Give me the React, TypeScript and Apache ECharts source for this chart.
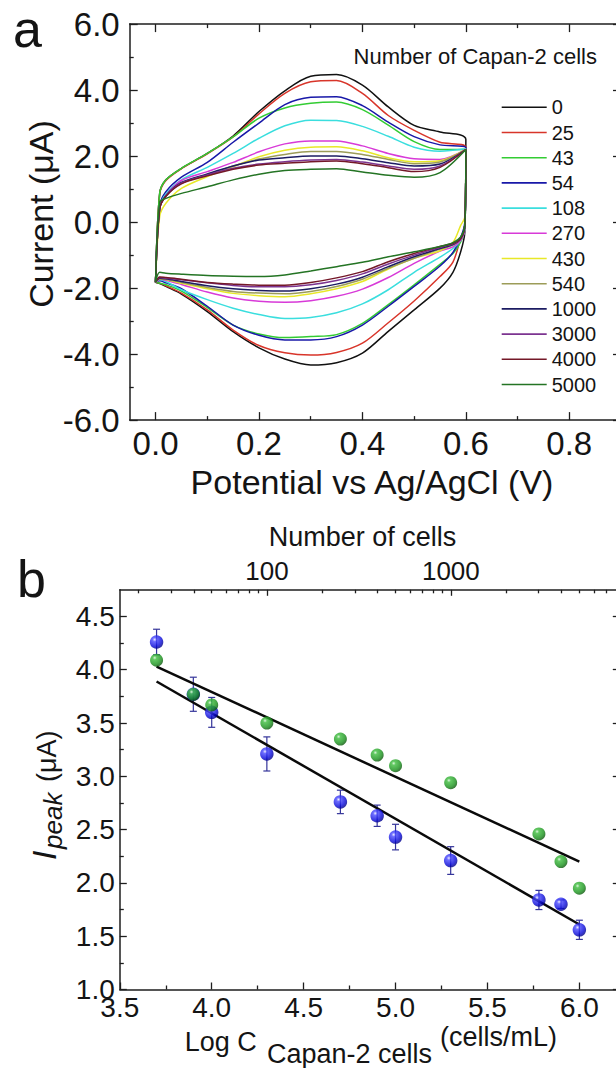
import React, { useEffect, useRef } from "react";
import * as echarts from "echarts";

const FONT = "'Liberation Sans', Arial, Helvetica, sans-serif";
const AXIS_COLOR = "#1e1e1e";
const TEXT_COLOR = "#141414";
const ERR_COLOR = "#34349a";

// ---------- Panel a : cyclic voltammograms ----------
const cellCounts = ["0", "25", "43", "54", "108", "270", "430", "540", "1000", "3000", "4000", "5000"];
const curveColors = ["#111111", "#d8352a", "#33cc33", "#1818a8", "#3adede", "#d83ad8", "#e8e828", "#9c9c58", "#1c1c62", "#7c3490", "#741828", "#247424"];

const potentialFwd = [0, 0.008, 0.02, 0.05, 0.1, 0.15, 0.2, 0.25, 0.3, 0.35, 0.4, 0.45, 0.5, 0.55, 0.6];
const potentialRev = [0.598, 0.59, 0.575, 0.55, 0.5, 0.45, 0.4, 0.35, 0.3, 0.25, 0.2, 0.15, 0.1, 0.05, 0.02, 0.008];

const fwd0 = [-1.82, 0.87, 1.28, 1.63, 2.08, 2.61, 3.35, 3.98, 4.42, 4.47, 4.15, 3.49, 2.93, 2.73, 2.5];
const fwd25 = [-1.82, 0.85, 1.26, 1.62, 2.07, 2.58, 3.28, 3.9, 4.25, 4.29, 3.9, 3.23, 2.78, 2.42, 2.26];
const fwd43 = [-1.82, 0.87, 1.28, 1.63, 2.08, 2.58, 3.15, 3.46, 3.6, 3.64, 3.41, 2.94, 2.44, 2.2, 2.2];
const fwd54 = [-1.82, 0.5, 0.92, 1.36, 1.81, 2.42, 3.0, 3.56, 3.78, 3.8, 3.53, 3.03, 2.59, 2.34, 2.25];
const fwd108 = [-1.82, 0.45, 0.85, 1.28, 1.66, 2.08, 2.54, 2.92, 3.09, 3.08, 2.9, 2.6, 2.27, 2.15, 2.22];
const fwd270 = [-1.82, 0.42, 0.8, 1.26, 1.53, 1.81, 2.13, 2.37, 2.46, 2.46, 2.31, 2.08, 1.92, 1.9, 2.2];
const fwd430 = [-1.82, 0.17, 0.57, 1.02, 1.38, 1.68, 1.98, 2.18, 2.27, 2.28, 2.16, 1.95, 1.83, 1.86, 2.2];
const fwd540 = [-1.82, 0.4, 0.78, 1.18, 1.43, 1.7, 1.91, 2.05, 2.14, 2.14, 2.05, 1.9, 1.77, 1.82, 2.2];
const fwd1000 = [-1.82, 0.4, 0.8, 1.2, 1.46, 1.7, 1.88, 1.95, 2.0, 2.0, 1.92, 1.8, 1.7, 1.76, 2.2];
const fwd3000 = [-1.82, 0.42, 0.8, 1.18, 1.43, 1.63, 1.76, 1.83, 1.88, 1.9, 1.82, 1.7, 1.6, 1.7, 2.2];
const fwd4000 = [-1.82, 0.4, 0.78, 1.16, 1.4, 1.6, 1.73, 1.78, 1.83, 1.85, 1.77, 1.65, 1.53, 1.66, 2.2];
const fwd5000 = [-1.82, 0.6, 0.72, 0.87, 1.07, 1.28, 1.45, 1.56, 1.6, 1.62, 1.52, 1.42, 1.36, 1.5, 2.2];

const rev0 = [-0.3, -0.9, -1.52, -2.0, -2.66, -3.31, -3.97, -4.26, -4.33, -4.15, -3.81, -3.32, -2.71, -2.18, -1.95, -1.86];
const rev25 = [-0.2, -0.5, -1.21, -1.65, -2.39, -3.05, -3.67, -3.95, -4.03, -3.96, -3.74, -3.27, -2.66, -2.15, -1.93, -1.85];
const rev43 = [-0.2, -0.6, -0.95, -1.28, -1.9, -2.5, -3.07, -3.41, -3.47, -3.5, -3.39, -3.12, -2.59, -2.09, -1.9, -1.85];
const rev54 = [0.0, -0.47, -0.92, -1.33, -1.95, -2.55, -3.12, -3.47, -3.57, -3.57, -3.43, -3.12, -2.55, -2.02, -1.84, -1.78];
const rev108 = [-0.2, -0.55, -0.8, -1.06, -1.52, -2.05, -2.48, -2.75, -2.89, -2.92, -2.8, -2.61, -2.35, -2.05, -1.8, -1.75];
const rev270 = [-0.2, -0.55, -0.75, -0.88, -1.25, -1.68, -2.03, -2.25, -2.38, -2.43, -2.4, -2.3, -2.12, -1.89, -1.76, -1.73];
const rev430 = [0.15, -0.1, -0.62, -0.87, -1.1, -1.42, -1.8, -2.02, -2.17, -2.26, -2.23, -2.16, -2.02, -1.85, -1.74, -1.72];
const rev540 = [-0.1, -0.5, -0.7, -0.82, -1.1, -1.4, -1.73, -1.95, -2.1, -2.17, -2.15, -2.1, -1.98, -1.83, -1.73, -1.72];
const rev1000 = [-0.1, -0.5, -0.68, -0.8, -1.05, -1.35, -1.67, -1.88, -2.02, -2.09, -2.07, -2.02, -1.93, -1.8, -1.72, -1.7];
const rev3000 = [-0.1, -0.5, -0.66, -0.77, -1.0, -1.27, -1.57, -1.77, -1.9, -1.96, -1.96, -1.92, -1.84, -1.75, -1.7, -1.68];
const rev4000 = [-0.1, -0.5, -0.64, -0.74, -0.95, -1.2, -1.5, -1.69, -1.83, -1.91, -1.91, -1.88, -1.83, -1.73, -1.68, -1.66];
const rev5000 = [-0.1, -0.45, -0.62, -0.74, -0.9, -1.05, -1.22, -1.35, -1.48, -1.6, -1.65, -1.64, -1.62, -1.58, -1.55, -1.52];

const forwardCurrents = [fwd0, fwd25, fwd43, fwd54, fwd108, fwd270, fwd430, fwd540, fwd1000, fwd3000, fwd4000, fwd5000];
const reverseCurrents = [rev0, rev25, rev43, rev54, rev108, rev270, rev430, rev540, rev1000, rev3000, rev4000, rev5000];

const aXMajor = [0, 0.2, 0.4, 0.6, 0.8];
const aXMinor = [0.1, 0.3, 0.5, 0.7];
const aYMajor = [-6, -4, -2, 0, 2, 4, 6];
const aYMinor = [-5, -3, -1, 1, 3, 5];

// ---------- Panel b : peak current vs log concentration ----------
const logC = [3.7, 3.9, 4.0, 4.3, 4.7, 4.9, 5.0, 5.3, 5.78, 5.9, 6.0];
const blueIpeak = [4.26, 3.77, 3.6, 3.21, 2.76, 2.63, 2.43, 2.21, 1.84, 1.8, 1.56];
const blueError = [0.12, 0.16, 0.14, 0.16, 0.11, 0.1, 0.12, 0.13, 0.09, 0.04, 0.09];
const greenIpeak = [4.09, 3.77, 3.67, 3.5, 3.35, 3.2, 3.1, 2.94, 2.46, 2.2, 1.95];
const blueFit = [[3.7, 3.89], [6.0, 1.61]];
const greenFit = [[3.7, 4.03], [6.0, 2.2]];

const bXMajor = [3.5, 4.0, 4.5, 5.0, 5.5, 6.0];
const bXMinor = [3.75, 4.25, 4.75, 5.25, 5.75];
const bYMajor = [1.0, 1.5, 2.0, 2.5, 3.0, 3.5, 4.0, 4.5];
const bYMinor = [1.25, 1.75, 2.25, 2.75, 3.25, 3.75, 4.25];
const topMajorCells = [100, 1000];
const topMinorCells = [20, 30, 40, 50, 60, 70, 80, 90, 200, 300, 400, 500, 600, 700, 800, 900, 2000, 3000, 4000, 5000, 6000, 7000, 8000];
const CELL_OFFSET = Math.log10(200);

const A_MIN_X = -0.05, A_MAX_X = 0.9, A_MIN_Y = -6, A_MAX_Y = 6;
const B_MIN_X = 3.5, B_MAX_X = 6.22, B_MIN_Y = 1.0, B_MAX_Y = 4.75;

const tickLine = { color: AXIS_COLOR, width: 1.3 };

function mkAxis(gridIndex: number, position: string, min: number, max: number, ticks: number[], tickLen: number, opts: any = {}) {
  return {
    gridIndex,
    position,
    type: "value",
    min,
    max,
    axisLine: { show: !!opts.line, onZero: false, lineStyle: { color: AXIS_COLOR, width: 1.5 } },
    axisTick: { show: true, inside: true, length: tickLen, customValues: ticks, lineStyle: tickLine },
    axisLabel: opts.labels
      ? {
          show: true,
          customValues: opts.labels,
          formatter: opts.formatter,
          fontSize: opts.fontSize,
          margin: opts.margin,
          color: TEXT_COLOR,
          fontFamily: FONT,
        }
      : { show: false },
    splitLine: { show: false },
    minorTick: { show: false },
  };
}

const fix1 = (v: number) => Number(v).toFixed(1);

function loopData(k: number) {
  const f = forwardCurrents[k];
  const r = reverseCurrents[k];
  const pts: number[][] = potentialFwd.map((e, i) => [e, f[i]]);
  potentialRev.forEach((e, i) => pts.push([e, r[i]]));
  pts.push([potentialFwd[0], f[0]]);
  return pts;
}

function txt(text: string, x: number, y: number, fontSize: number, align = "left", extra: any = {}) {
  return {
    type: "text",
    x,
    y,
    silent: true,
    style: {
      text,
      fontSize,
      fontFamily: FONT,
      fill: TEXT_COLOR,
      align,
      verticalAlign: "middle",
      ...extra,
    },
  };
}

function buildOption() {
  const blueBall = new echarts.graphic.RadialGradient(0.36, 0.32, 0.68, [
    { offset: 0, color: "#e4e4ff" },
    { offset: 0.22, color: "#4a4aff" },
    { offset: 0.75, color: "#0808d8" },
    { offset: 1, color: "#000090" },
  ]);
  const greenBall = new echarts.graphic.RadialGradient(0.36, 0.32, 0.68, [
    { offset: 0, color: "#d4f4d4" },
    { offset: 0.22, color: "#3cbc3c" },
    { offset: 0.75, color: "#17901a" },
    { offset: 1, color: "#0b5c0b" },
  ]);

  const cvSeries = cellCounts.map((name, k) => ({
    type: "line",
    name,
    xAxisIndex: 0,
    yAxisIndex: 0,
    data: loopData(k),
    smooth: 0.3,
    symbol: "none",
    lineStyle: { color: curveColors[k], width: 1.5 },
    itemStyle: { color: curveColors[k] },
    z: 3,
  }));

  return {
    animation: false,
    backgroundColor: "#ffffff",
    textStyle: { fontFamily: FONT },
    grid: [
      { left: 129.7, top: 24.1, width: 491.3, height: 396, containLabel: false },
      { left: 119.8, top: 589.8, width: 500, height: 399.7, containLabel: false },
    ],
    legend: {
      data: cellCounts,
      orient: "vertical",
      left: 501.7,
      top: 97.3,
      padding: 0,
      icon: "rect",
      itemWidth: 45,
      itemHeight: 1.6,
      itemGap: 5.2,
      itemTextGap: 6,
      selectedMode: false,
      textStyle: { fontSize: 20, color: TEXT_COLOR, fontFamily: FONT, lineHeight: 20 },
    },
    xAxis: [
      mkAxis(0, "bottom", A_MIN_X, A_MAX_X, aXMajor, 8, { line: true, labels: aXMajor, formatter: fix1, fontSize: 33, margin: 7 }),
      mkAxis(0, "bottom", A_MIN_X, A_MAX_X, aXMinor, 4),
      mkAxis(0, "top", A_MIN_X, A_MAX_X, aXMajor, 8, { line: true }),
      mkAxis(0, "top", A_MIN_X, A_MAX_X, aXMinor, 4),
      mkAxis(1, "bottom", B_MIN_X, B_MAX_X, bXMajor, 7, { line: true, labels: bXMajor, formatter: fix1, fontSize: 28, margin: 4 }),
      mkAxis(1, "bottom", B_MIN_X, B_MAX_X, bXMinor, 4),
      mkAxis(1, "top", B_MIN_X, B_MAX_X, topMajorCells.map((n) => CELL_OFFSET + Math.log10(n)), 6, {
        line: true,
        labels: topMajorCells.map((n) => CELL_OFFSET + Math.log10(n)),
        formatter: (v: number) => String(Math.round(Math.pow(10, v - CELL_OFFSET))),
        fontSize: 26,
        margin: 6,
      }),
      mkAxis(1, "top", B_MIN_X, B_MAX_X, topMinorCells.map((n) => CELL_OFFSET + Math.log10(n)), 3.5),
    ],
    yAxis: [
      mkAxis(0, "left", A_MIN_Y, A_MAX_Y, aYMajor, 8, { line: true, labels: aYMajor, formatter: fix1, fontSize: 33, margin: 10 }),
      mkAxis(0, "left", A_MIN_Y, A_MAX_Y, aYMinor, 4),
      mkAxis(0, "right", A_MIN_Y, A_MAX_Y, aYMajor, 8, { line: true }),
      mkAxis(1, "left", B_MIN_Y, B_MAX_Y, bYMajor, 7, { line: true, labels: bYMajor, formatter: fix1, fontSize: 28, margin: 5 }),
      mkAxis(1, "left", B_MIN_Y, B_MAX_Y, bYMinor, 4),
      mkAxis(1, "right", B_MIN_Y, B_MAX_Y, bYMajor, 7, { line: true }),
    ],
    series: [
      ...cvSeries,
      {
        type: "custom",
        name: "blue error",
        xAxisIndex: 4,
        yAxisIndex: 3,
        z: 2,
        data: logC.map((x, i) => [x, blueIpeak[i] - blueError[i], blueIpeak[i] + blueError[i]]),
        encode: { x: 0, y: [1, 2] },
        renderItem: (params: any, api: any) => {
          const x = api.value(0);
          const lo = api.coord([x, api.value(1)]);
          const hi = api.coord([x, api.value(2)]);
          const cap = 3.5;
          const style = { stroke: ERR_COLOR, lineWidth: 1.2, fill: "none" };
          return {
            type: "group",
            children: [
              { type: "line", shape: { x1: lo[0], y1: lo[1], x2: hi[0], y2: hi[1] }, style },
              { type: "line", shape: { x1: lo[0] - cap, y1: lo[1], x2: lo[0] + cap, y2: lo[1] }, style },
              { type: "line", shape: { x1: hi[0] - cap, y1: hi[1], x2: hi[0] + cap, y2: hi[1] }, style },
            ],
          };
        },
      },
      {
        type: "line",
        name: "blue fit",
        xAxisIndex: 4,
        yAxisIndex: 3,
        data: blueFit,
        symbol: "none",
        lineStyle: { color: "#0a0a0a", width: 2.5 },
        z: 3,
      },
      {
        type: "line",
        name: "green fit",
        xAxisIndex: 4,
        yAxisIndex: 3,
        data: greenFit,
        symbol: "none",
        lineStyle: { color: "#0a0a0a", width: 2.5 },
        z: 3,
      },
      {
        type: "scatter",
        name: "blue",
        xAxisIndex: 4,
        yAxisIndex: 3,
        data: logC.map((x, i) => [x, blueIpeak[i]]),
        symbol: "circle",
        symbolSize: 13.5,
        itemStyle: { color: blueBall },
        z: 5,
      },
      {
        type: "scatter",
        name: "green",
        xAxisIndex: 4,
        yAxisIndex: 3,
        data: logC.map((x, i) => [x, greenIpeak[i]]),
        symbol: "circle",
        symbolSize: 13,
        itemStyle: { color: greenBall },
        z: 6,
      },
    ],
    graphic: [
      txt("a", 13, 29, 52),
      txt("b", 17, 579, 52),
      txt("Number of Capan-2 cells", 353.6, 56.8, 22),
      {
        type: "group",
        x: 41.2,
        y: 214,
        rotation: Math.PI / 2,
        children: [txt("Current (\u03bcA)", 0, 0, 34, "center")],
      },
      txt("Potential vs Ag/AgCl (V)", 372, 482, 34, "center"),
      txt("Number of cells", 362.5, 537, 27, "center"),
      {
        type: "group",
        x: 56,
        y: 860,
        rotation: Math.PI / 2,
        children: [
          txt("I", 0, -11.8, 34, "left", { fontStyle: "italic" }),
          txt("peak", 11, -3, 26, "left", { fontStyle: "italic" }),
          txt("(\u03bcA)", 78, -9.4, 27, "left"),
        ],
      },
      txt("Log C", 184.7, 1041.6, 27),
      txt("Capan-2 cells", 267, 1053.6, 27),
      txt("(cells/mL)", 440, 1036.6, 27),
    ],
  };
}

export default function App() {
  const ref = useRef<HTMLDivElement>(null);
  useEffect(() => {
    if (!ref.current) return;
    const chart = echarts.init(ref.current, undefined, { renderer: "svg" });
    chart.setOption(buildOption() as any);
    return () => chart.dispose();
  }, []);
  return (
    <div style={{ position: "absolute", left: 0, top: 0, width: 616, height: 1068, overflow: "hidden", background: "#fff" }}>
      <div ref={ref} style={{ width: 640, height: 1068 }} />
    </div>
  );
}
